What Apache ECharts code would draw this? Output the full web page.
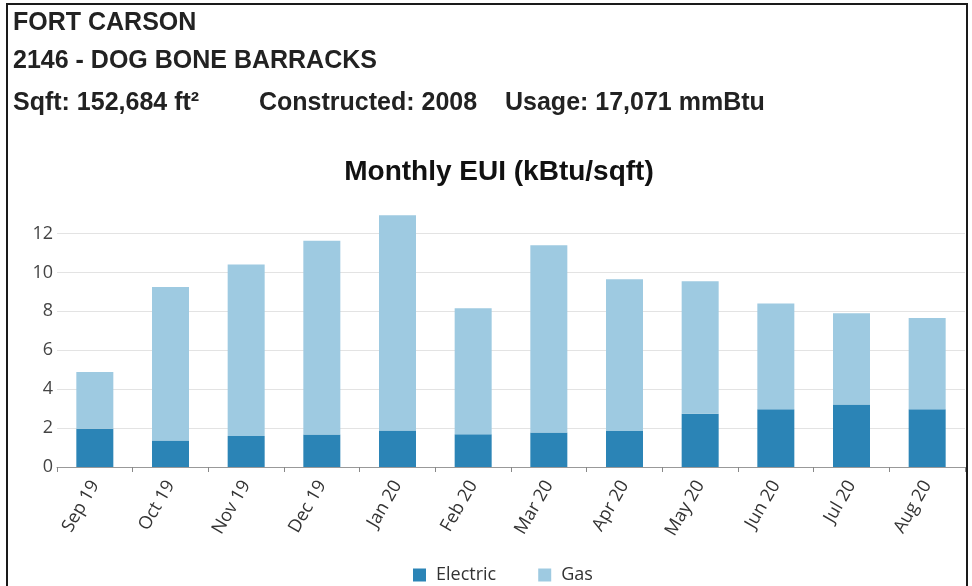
<!DOCTYPE html>
<html>
<head>
<meta charset="utf-8">
<script src="https://cdn.jsdelivr.net/npm/echarts@6/dist/echarts.min.js"></script>
<style>
	html,body{margin:0;padding:0;background:#fff;}
	#wrap{position:relative;width:972px;height:586px;overflow:hidden;}
	#chart{position:absolute;left:0;top:0;width:972px;height:586px;}
	.frame{position:absolute;left:6px;top:3px;width:958px;height:600px;border:2px solid #1a1a1a;border-bottom:none;}
	.head{position:absolute;left:13px;font-family:"Liberation Sans",Arial,sans-serif;font-weight:bold;font-size:25px;line-height:25px;color:#222;white-space:nowrap;}
</style>
</head>
<body>
<div id="wrap">
	<div id="chart"></div>
	<div class="frame"></div>
	<div class="head" style="top:9px;">FORT CARSON</div>
	<div class="head" style="top:47px;">2146 - DOG BONE BARRACKS</div>
	<div class="head" style="top:89px;">Sqft: 152,684 ft²</div>
	<div class="head" style="top:89px;left:259px;">Constructed: 2008</div>
	<div class="head" style="top:89px;left:505px;">Usage: 17,071 mmBtu</div>
</div>
<script>
	// 月份
	var months=['Sep 19','Oct 19','Nov 19','Dec 19','Jan 20','Feb 20','Mar 20','Apr 20','May 20','Jun 20','Jul 20','Aug 20'];
	// 电
	var electric=[1.97,1.36,1.59,1.67,1.87,1.68,1.77,1.85,2.74,2.97,3.21,2.97];
	// 气
	var gas=[2.91,7.89,8.82,9.95,11.07,6.48,9.63,7.80,6.81,5.43,4.69,4.69];
	var yTicks=[0,2,4,6,8,10,12];

	var dom=echarts.init(document.getElementById('chart'));
	var font='"Open Sans","Noto Sans",sans-serif';
	var option={
		animation:false,
		title:{
			text:'Monthly EUI (kBtu/sqft)',
			left:494,
			textAlign:'center',
			top:153,
			textStyle:{fontFamily:'"Liberation Sans",Arial,sans-serif',fontWeight:'bold',fontSize:28,color:'#111'}
		},
		legend:{
			data:['Electric','Gas'],
			left:413,
			top:566,
			padding:0,
			icon:'rect',
			itemWidth:13,
			itemHeight:13,
			itemGap:42,
			textStyle:{fontFamily:font,fontSize:18,color:'#333',padding:[0,0,0,5]}
		},
		grid:{left:57,right:7,top:214,bottom:119,containLabel:false},
		xAxis:{
			type:'category',
			data:months,
			axisLine:{lineStyle:{color:'#999',width:1}},
			axisTick:{show:true,length:5,lineStyle:{color:'#888'}},
			axisLabel:{rotate:60,margin:15,fontFamily:font,fontSize:18,color:'#333'}
		},
		yAxis:{
			type:'value',
			min:0,
			max:13,
			interval:2,
			axisLine:{show:false},
			axisTick:{show:false},
			axisLabel:{
				margin:4,fontFamily:font,fontSize:18,color:'#444',showMaxLabel:false,
				formatter:function(v){return yTicks.indexOf(v)>-1?v:'';}
			},
			splitLine:{showMaxLine:false,lineStyle:{color:'#e3e3e3',width:1}}
		},
		series:[{
			name:'Electric',
			type:'bar',
			stack:'eui',
			barWidth:37,
			data:electric,
			itemStyle:{color:'#2b84b6'}
		},{
			name:'Gas',
			type:'bar',
			stack:'eui',
			barWidth:37,
			data:gas,
			itemStyle:{color:'#9ecae1'}
		}]
	};
	dom.setOption(option);
</script>
</body>
</html>
